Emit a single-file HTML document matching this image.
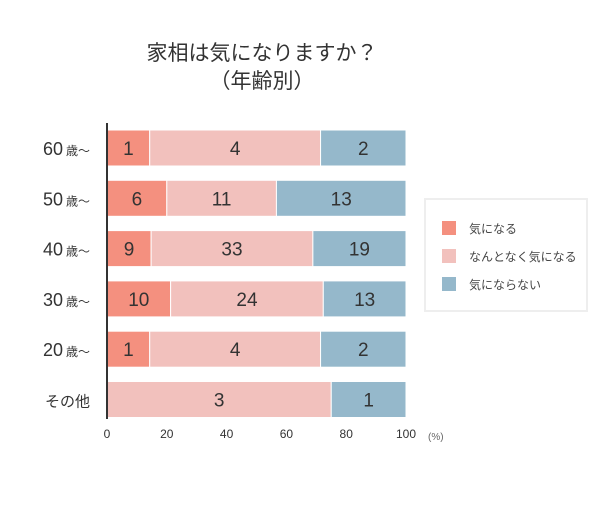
<!DOCTYPE html>
<html><head><meta charset="utf-8"><style>
body{margin:0;background:#fff;width:600px;height:500px;overflow:hidden}
svg{font-family:"Liberation Sans","Noto Sans CJK JP",sans-serif}
</style></head><body>
<svg id="c" width="600" height="500" xmlns="http://www.w3.org/2000/svg">
<text x="262" y="60" font-size="21" fill="#333" text-anchor="middle">家相は気になりますか？</text>
<text x="262" y="88" font-size="21" fill="#333" text-anchor="middle">（年齢別）</text>
<g id="bars"></g>
<line x1="107" y1="123" x2="107" y2="419" stroke="#333" stroke-width="2"/>
<g id="xt"></g>
<text x="428" y="440" font-size="10" fill="#666">(%)</text>
<g>
<rect x="425" y="199" width="162" height="112" fill="#fff" stroke="#eee" stroke-width="2"/>
<rect x="442" y="221" width="14" height="14" fill="#f4907f"/>
<text x="469" y="233" font-size="12" fill="#444">気になる</text>
<rect x="442" y="249" width="14" height="14" fill="#f2c1bd"/>
<text x="469" y="261" font-size="12" fill="#444">なんとなく気になる</text>
<rect x="442" y="277" width="14" height="14" fill="#95b8cb"/>
<text x="469" y="289" font-size="12" fill="#444">気にならない</text>
</g>
</svg>
<script>
const categories=["60","50","40","30","20","その他"];
const careValues=[1,6,9,10,1,0];
const somewhatValues=[4,11,33,24,4,3];
const notValues=[2,13,19,13,2,1];
const xTicks=[0,20,40,60,80,100];
const NS="http://www.w3.org/2000/svg";
const x0=107,x1=406,top0=130,step=50.3,bh=36;
const xs=p=>x0+(x1-x0)*p/100;
const yRow=i=>top0+i*step;
const colors=["#f4907f","#f2c1bd","#95b8cb"];
const names=["care","somewhat","not"];
const bars=document.getElementById("bars");
function mk(t,a,p){const e=document.createElementNS(NS,t);for(const k in a)e.setAttribute(k,a[k]);(p||bars).appendChild(e);return e;}
categories.forEach((c,i)=>{
 const vals=[careValues[i],somewhatValues[i],notValues[i]];
 const tot=vals.reduce((a,b)=>a+b,0);
 let acc=0;const y=yRow(i);
 vals.forEach((v,j)=>{
  if(v<=0)return;
  const a=xs(acc/tot*100),b=xs((acc+v)/tot*100);acc+=v;
  const r=mk("rect",{x:a,y:y,width:b-a,height:bh,fill:colors[j],stroke:"#fff","stroke-width":1});
  
  
  const t=mk("text",{x:(a+b)/2,y:y+bh/2+7,"font-size":19,fill:"#333","text-anchor":"middle"});
  t.textContent=v;
  
  
 });
 const l=mk("text",{x:90,y:y+bh/2+7,"text-anchor":"end",fill:"#333","font-size":18});
 if(c==="その他"){l.setAttribute("font-size","15");l.textContent=c;}
 else{l.innerHTML=c+'<tspan font-size="12" dx="3">歳〜</tspan>';}
 
 
});
const xt=document.getElementById("xt");
xTicks.forEach(v=>{
 const t=mk("text",{x:xs(v),y:438,"font-size":12,fill:"#333","text-anchor":"middle"},xt);
 t.textContent=v;
 
 
});
</script>
</body></html>
